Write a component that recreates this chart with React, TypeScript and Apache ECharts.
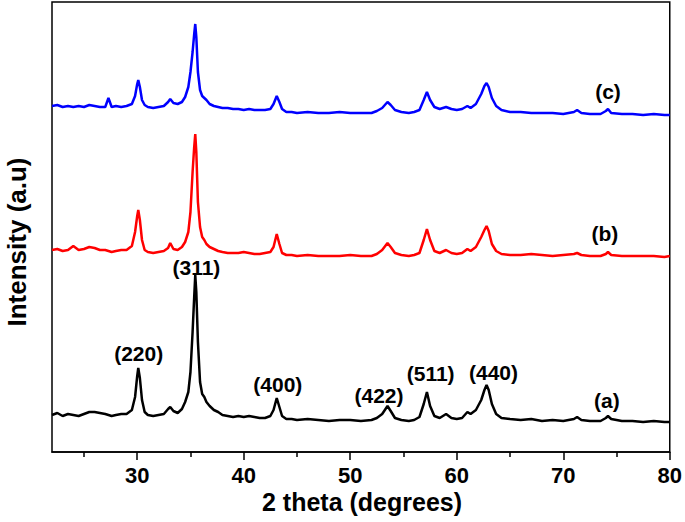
import React, { useEffect, useRef } from "react";
import * as echarts from "echarts";

// 2θ positions (degrees) shared by all three patterns
const twoTheta = [
  22.0, 22.5, 23.0, 23.5, 24.0, 24.5, 25.0, 25.5, 26.0, 26.5,
  27.0, 27.3, 27.6, 28.0, 28.5, 29.0, 29.5, 29.8, 30.0, 30.1,
  30.25, 30.45, 30.7, 31.0, 31.5, 32.0, 32.5, 32.9, 33.1, 33.4,
  33.8, 34.2, 34.5, 34.8, 35.0, 35.2, 35.35, 35.45, 35.55, 35.7,
  35.9, 36.1, 36.3, 36.5, 36.8, 37.2, 37.6, 38.0, 38.5, 39.0,
  39.5, 40.0, 40.5, 41.0, 41.5, 42.0, 42.5, 42.8, 43.1, 43.35,
  43.6, 44.0, 44.5, 45.0, 46.0, 47.0, 48.0, 49.0, 50.0, 51.0,
  52.0, 52.5, 53.0, 53.5, 53.8, 54.2, 54.8, 55.5, 56.0, 56.5,
  56.9, 57.2, 57.5, 57.9, 58.4, 59.0, 59.5, 60.0, 60.5, 61.0,
  61.3, 61.8, 62.3, 62.6, 62.8, 63.0, 63.3, 63.7, 64.2, 65.0,
  66.0, 67.0, 68.0, 69.0, 70.0, 71.0, 71.3, 71.7, 72.5, 73.5,
  74.0, 74.2, 74.5, 75.5, 76.5, 77.5, 78.5, 79.5, 80.0,
];

// Intensity (a.u., stacked with offsets) for sample (a)
const intensityA = [
  37, 39, 36, 38, 37, 36, 38, 40, 40, 39,
  38, 37, 36, 37, 38, 38, 42, 55, 76, 84,
  74, 52, 40, 37, 36, 37, 38, 43, 45, 41,
  39, 43, 50, 60, 80, 120, 155, 177, 160, 110,
  70, 58, 55, 50, 46, 42, 40, 37, 36, 35,
  36, 35, 36, 35, 34, 34, 36, 42, 54, 45,
  36, 33, 33, 32, 33, 32, 31, 32, 32, 31,
  32, 34, 38, 46, 41, 34, 32, 31, 32, 35,
  48, 60, 46, 36, 34, 38, 34, 33, 34, 40,
  38, 42, 52, 62, 67, 62, 48, 38, 34, 33,
  32, 33, 31, 32, 31, 33, 35, 32, 31, 31,
  34, 36, 33, 31, 31, 30, 31, 30, 30,
];

// Sample (b)
const intensityB = [
  202, 203, 201, 202, 206, 202, 203, 205, 204, 202,
  202, 201, 200, 201, 202, 202, 206, 220, 236, 242,
  232, 212, 202, 200, 199, 200, 201, 204, 209, 203,
  202, 205, 210, 220, 240, 280, 305, 318, 300, 250,
  225, 215, 212, 208, 205, 203, 201, 200, 199, 199,
  199, 200, 199, 198, 198, 199, 200, 205, 218, 208,
  199, 197, 197, 196, 197, 196, 196, 196, 197, 196,
  196, 198, 202, 209, 205, 199, 197, 196, 197, 199,
  212, 223, 212, 201, 199, 202, 199, 198, 199, 203,
  201, 205, 215, 222, 226, 221, 208, 201, 198, 197,
  197, 198, 197, 196, 197, 198, 199, 197, 196, 196,
  198, 200, 197, 196, 196, 196, 196, 195, 196,
];

// Sample (c)
const intensityC = [
  346, 347, 345, 346, 345, 346, 345, 347, 346, 345,
  345, 354, 345, 346, 345, 346, 348, 356, 368, 372,
  365, 352, 347, 345, 344, 345, 346, 350, 353, 349,
  348, 350, 355, 365, 380, 400, 418, 428, 415, 380,
  362, 356, 354, 352, 348, 346, 345, 344, 344, 343,
  343, 342, 343, 342, 342, 342, 343, 348, 356, 350,
  343, 340, 340, 339, 340, 339, 339, 340, 339, 339,
  339, 341, 344, 350, 347, 342, 340, 339, 340, 342,
  352, 360, 352, 345, 343, 345, 343, 342, 343, 346,
  344, 348, 358, 366, 369, 365, 354, 346, 342, 340,
  340, 339, 339, 339, 338, 340, 342, 339, 338, 338,
  341, 343, 339, 338, 338, 337, 338, 337, 337,
];

// Tick labels
const majorTicks = [30, 40, 50, 60, 70, 80];
const minorTicks = [25, 35, 45, 55, 65, 75];

// Annotations: text, 2θ, intensity
const annoText = ["(220)", "(311)", "(400)", "(422)", "(511)", "(440)", "(a)", "(b)", "(c)"];
const annoX = [30.14, 35.56, 43.2, 52.7, 57.55, 63.45, 74.1, 73.9, 74.2];
const annoY = [99, 185, 68, 57, 79, 80, 52, 219, 361];

const FONT = "'Liberation Sans', Arial, sans-serif";

export default function App() {
  const ref = useRef<HTMLDivElement>(null);
  useEffect(() => {
    if (!ref.current) return;
    const chart = echarts.init(ref.current, null, { renderer: "svg" });
    const mk = (vals: number[]) => twoTheta.map((x, i) => [x, vals[i]]);
    const line = (name: string, vals: number[], color: string) => ({
      name,
      type: "line",
      data: mk(vals),
      showSymbol: false,
      symbol: "none",
      smooth: false,
      lineStyle: { color, width: 2.5 },
      itemStyle: { color },
      xAxisIndex: 0,
      yAxisIndex: 0,
      z: 3,
    });
    chart.setOption({
      animation: false,
      backgroundColor: "#fff",
      grid: {
        left: 52,
        right: 13,
        top: 2,
        bottom: 70,
        show: true,
        borderColor: "#000",
        borderWidth: 1.5,
        backgroundColor: "transparent",
      },
      xAxis: [
        {
          type: "value",
          min: 22,
          max: 80,
          position: "bottom",
          axisLine: { show: true, lineStyle: { color: "#000", width: 1.5 } },
          axisTick: {
            show: true,
            inside: false,
            length: 8,
            customValues: majorTicks,
            lineStyle: { color: "#000", width: 1.5 },
          },
          axisLabel: {
            show: true,
            customValues: majorTicks,
            color: "#000",
            fontFamily: FONT,
            fontWeight: "bold",
            fontSize: 22,
            margin: 12,
          },
          splitLine: { show: false },
        },
        {
          type: "value",
          min: 22,
          max: 80,
          position: "bottom",
          axisLine: { show: false },
          axisTick: {
            show: true,
            inside: false,
            length: 5,
            customValues: minorTicks,
            lineStyle: { color: "#000", width: 1.5 },
          },
          axisLabel: { show: false },
          splitLine: { show: false },
        },
      ],
      yAxis: {
        type: "value",
        min: 0,
        max: 450,
        axisLine: { show: false },
        axisTick: { show: false },
        axisLabel: { show: false },
        splitLine: { show: false },
      },
      series: [
        line("(a)", intensityA, "#000000"),
        line("(b)", intensityB, "#ff0000"),
        line("(c)", intensityC, "#0000ff"),
        {
          type: "scatter",
          data: annoText.map((t, i) => ({ value: [annoX[i], annoY[i]], name: t })),
          symbolSize: 1,
          itemStyle: { color: "rgba(255,255,255,0)" },
          label: {
            show: true,
            position: "inside",
            formatter: "{b}",
            color: "#000",
            opacity: 1,
            textBorderWidth: 0,
            fontFamily: FONT,
            fontWeight: "bold",
            fontSize: 21,
          },
          emphasis: { disabled: true },
          z: 5,
        },
      ],
      graphic: [
        {
          type: "text",
          x: 362,
          y: 502,
          style: {
            text: "2 theta (degrees)",
            fill: "#000",
            font: `bold 25px ${FONT}`,
            textAlign: "center",
            textVerticalAlign: "middle",
          },
        },
        {
          type: "text",
          x: 17,
          y: 242,
          rotation: Math.PI / 2,
          style: {
            text: "Intensity (a.u)",
            fill: "#000",
            font: `bold 26px ${FONT}`,
            textAlign: "center",
            textVerticalAlign: "middle",
          },
        },
      ],
    });
    return () => chart.dispose();
  }, []);
  return <div ref={ref} style={{ width: 685, height: 522, position: "absolute", left: 0, top: 0 }} />;
}
